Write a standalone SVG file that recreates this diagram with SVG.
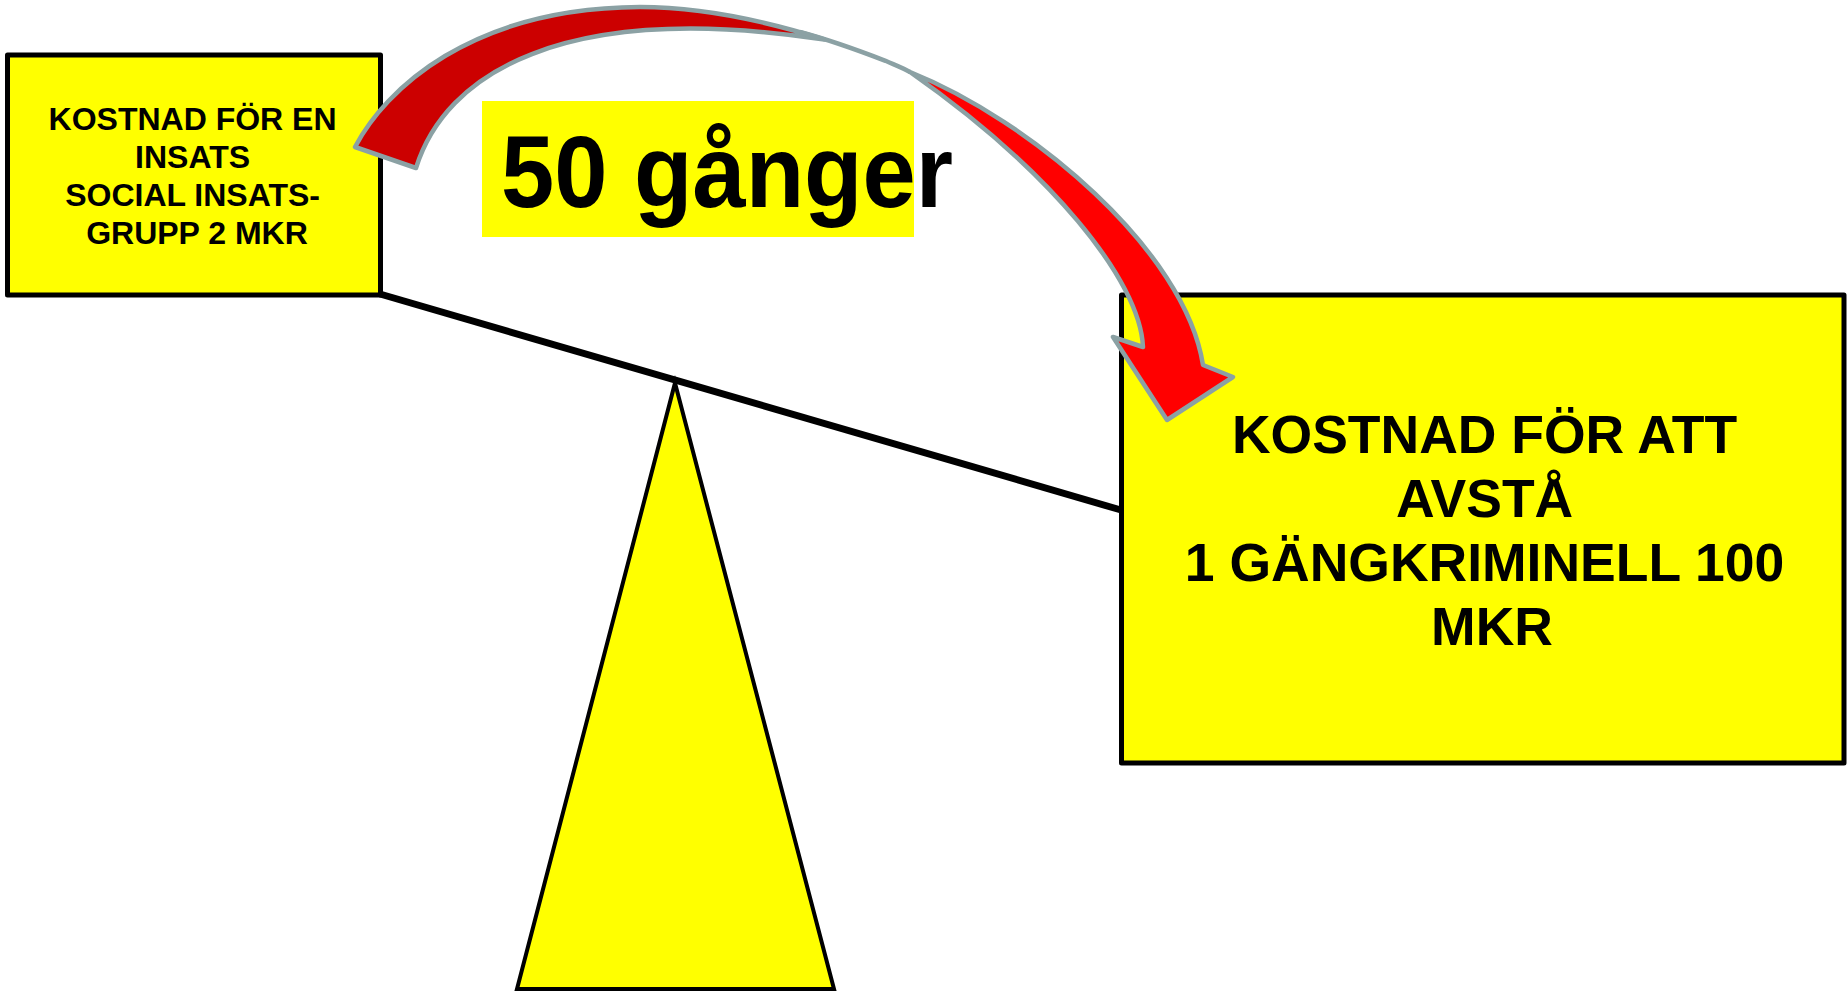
<svg xmlns="http://www.w3.org/2000/svg" width="1847" height="993" viewBox="0 0 1847 993">
  <style>
    .box { fill: #FFFF00; stroke: #000000; stroke-width: 5; stroke-linejoin: round; }
    .txt { font-family: "Liberation Sans", Arial, sans-serif; font-weight: bold; fill: #000000; text-anchor: middle; }
    .arrowEdge { stroke: #8BA1A4; stroke-width: 4.5; stroke-linejoin: round; }
  </style>
  <rect x="0" y="0" width="1847" height="993" fill="#FFFFFF"/>

  <g id="fulcrum">
    <polygon points="675,383 834,989 517,989" fill="#FFFF00" stroke="#000000" stroke-width="4" stroke-linejoin="miter"/>
  </g>

  <g id="connectors">
    <line id="beam" x1="380" y1="294" x2="1121" y2="510" stroke="#000000" stroke-width="7"/>
  </g>

  <g id="node-left">
    <rect class="box" x="7.5" y="55" width="373" height="240"/>
    <text class="txt" font-size="32">
      <tspan x="197" y="130">KOSTNAD FÖR EN</tspan>
      <tspan x="197" y="168">INSATS</tspan>
      <tspan x="197" y="206">SOCIAL INSATS-</tspan>
      <tspan x="197" y="244">GRUPP 2 MKR</tspan>
    </text>
  </g>

  <g id="node-right">
    <rect class="box" x="1121.5" y="295" width="722.5" height="468"/>
    <text class="txt" font-size="53.5">
      <tspan x="1492" y="453">KOSTNAD FÖR ATT</tspan>
      <tspan x="1492" y="517">AVSTÅ</tspan>
      <tspan x="1492" y="581">1 GÄNGKRIMINELL 100</tspan>
      <tspan x="1492" y="645">MKR</tspan>
    </text>
  </g>

  <g id="label-50">
    <rect x="482" y="101" width="432" height="136" fill="#FFFF00"/>
    <text x="501" y="207" font-family="'Liberation Sans', Arial, sans-serif" font-weight="bold" font-size="102" textLength="452" lengthAdjust="spacingAndGlyphs">50 gånger</text>
  </g>

  <g id="arrow">
    <path class="arrowEdge" fill="#CC0000" d="M355,147 C385,90 470,8 640,7 C698.5,7 765.5,20.9 824.4,39.5 C560,0 445,75 416,168 Z"/>
    <path class="arrowEdge" fill="none" stroke-width="5.5" d="M800,32 C830,40 856.1,49.5 885.5,60.8 C895,65 903,68 910,72"/>
    <path class="arrowEdge" fill="#FF0000" d="M910,72 C1030,120 1185,250 1203,365 L1233,377 L1167,420 L1113,337 L1143,347 C1140,280 1050,170 910,72 Z"/>
  </g>
</svg>
